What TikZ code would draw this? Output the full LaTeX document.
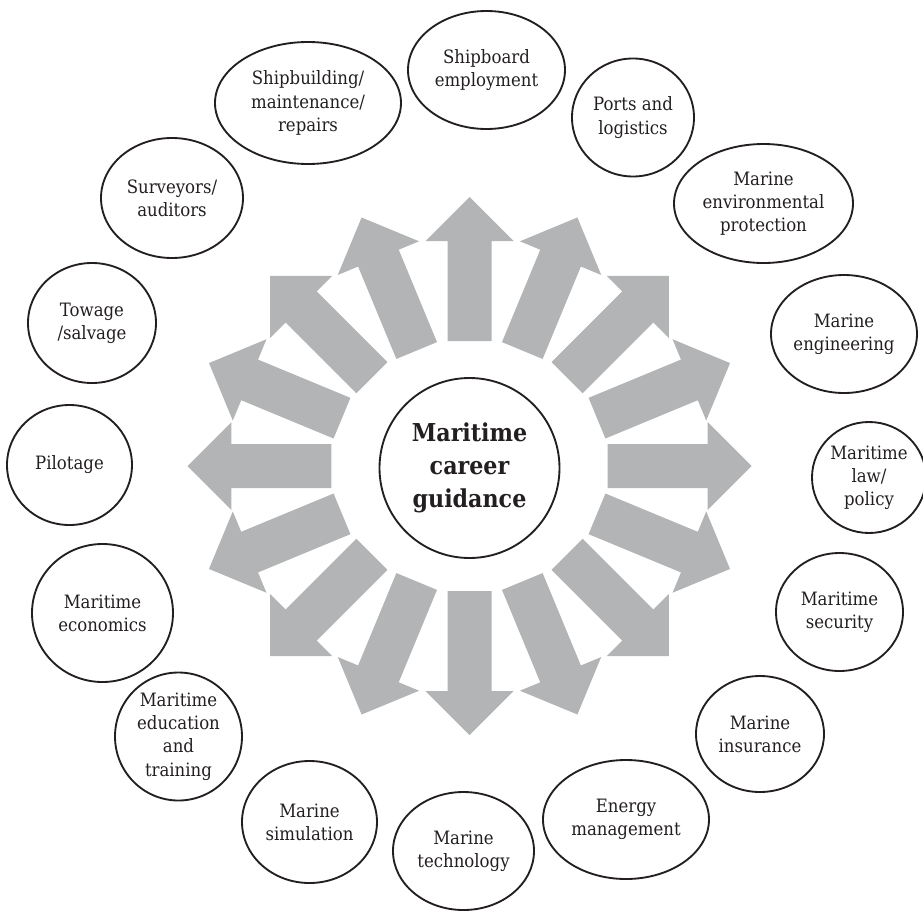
\documentclass[tikz,border=0pt]{standalone}
\usepackage{fontspec}
\setmainfont{DejaVu Serif Condensed}
\usetikzlibrary{shapes.geometric}
\definecolor{spokegray}{RGB}{179,180,182}
\definecolor{ink}{RGB}{35,31,32}
\tikzset{
  career/.style={draw=ink, text=ink, ellipse, line width=1.4pt, inner sep=0pt,
    align=center, font=\fontsize{13.8}{17.4}\selectfont},
  wh/.style 2 args={minimum width=#1*0.75pt, minimum height=#2*0.75pt},
  hub/.style={draw=ink, text=ink, circle, line width=1.4pt, minimum size=135pt,
    inner sep=0pt, align=center, font=\bfseries\fontsize{18.5}{24.5}\selectfont}
}
\begin{document}
\begin{tikzpicture}[x=0.75pt,y=0.75pt]
  \useasboundingbox (-469.5,-445) rectangle (453.5,466);
  \foreach \a in {0,22.5,...,337.5}
    \fill[spokegray, shift={({138*cos(\a)},{125*sin(\a)})}, rotate=\a]
      (0,-22) -- (100,-22) -- (100,-44) -- (144,0) -- (100,44) -- (100,22) -- (0,22) -- cycle;
  \node[hub] (guide) at (0,-2) {Maritime\\career\\guidance};

  \node[career, wh={157}{118}] (shipboard) at (17,396) {Shipboard\\employment};
  \node[career, wh={122}{118}] (ports) at (163.5,348.5) {Ports and\\logistics};
  \node[career, wh={179}{119}] (environ) at (294,262.5) {Marine\\environmental\\protection};
  \node[career, wh={146}{118}] (engineer) at (374.5,132) {Marine\\engineering};
  \node[career, wh={114}{111}] (law) at (399.5,-11.5) {Maritime\\law/\\policy};
  \node[career, wh={127}{118}] (security) at (370,-146) {Maritime\\security};
  \node[career, wh={128}{116}] (insure) at (290.5,-268) {Marine\\insurance};
  \node[career, wh={166}{119}] (energy) at (156.5,-353.5) {Energy\\management};
  \node[career, wh={141}{118}] (techno) at (-6,-385) {Marine\\technology};
  \node[career, wh={135}{122}] (simul) at (-160,-356) {Marine\\simulation};
  \node[career, wh={127}{128}] (educ) at (-291,-270.5) {Maritime\\education\\and\\training};
  \node[career, wh={141}{138}] (econ) at (-367,-147) {Maritime\\economics};
  \node[career, wh={125}{120}] (pilot) at (-400,1) {Pilotage};
  \node[career, wh={128}{120}] (towage) at (-377.5,143) {Towage\\/salvage};
  \node[career, wh={142}{120}] (survey) at (-297.5,268) {Surveyors/\\auditors};
  \node[career, wh={186}{122}] (shipbuild) at (-161.5,363) {Shipbuilding/\\maintenance/\\repairs};
\end{tikzpicture}
\end{document}
